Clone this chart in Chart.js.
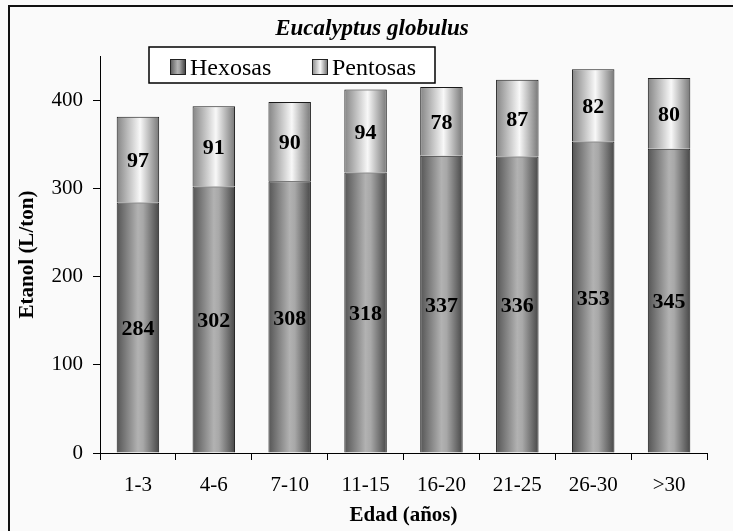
<!DOCTYPE html>
<html>
<head>
<meta charset="utf-8">
<script src="https://cdn.jsdelivr.net/npm/chart.js@4.4.1/dist/chart.umd.min.js"></script>
<style>
  body { margin: 0; background: #fafafa; }
  #wrap { width: 733px; height: 531px; }
</style>
</head>
<body>
<div id="wrap"><canvas id="grafico" width="733" height="531"></canvas></div>
<script>
// datos
const titulo = "Eucalyptus globulus";
const edades = ["1-3", "4-6", "7-10", "11-15", "16-20", "21-25", "26-30", ">30"];
const hexosas = [284, 302, 308, 318, 337, 336, 353, 345];
const pentosas = [97, 91, 90, 94, 78, 87, 82, 80];
const yTicks = [0, 100, 200, 300, 400];

const fuente = "'Liberation Serif', 'Times New Roman', serif";
const anchoBarra = 0.56;

// gradiente tipo cilindro por barra
function cilindro(stops) {
  return function (c) {
    const ch = c.chart;
    const sx = ch.scales.x;
    if (!ch.chartArea || !sx) return stops[1][1];
    const cx = sx.getPixelForValue(c.dataIndex);
    const half = (sx.width / edades.length) * anchoBarra / 2;
    const g = ch.ctx.createLinearGradient(cx - half, 0, cx + half, 0);
    stops.forEach(s => g.addColorStop(s[0], s[1]));
    return g;
  };
}

const stopsHex = [[0, "#555555"], [0.5, "#b2b2b2"], [0.62, "#a8a8a8"], [1, "#474747"]];
const stopsPen = [[0, "#858585"], [0.55, "#f8f8f8"], [1, "#777777"]];

// marco, título, leyenda y etiquetas
const extras = {
  id: "extras",
  afterDraw(chart) {
    const ctx = chart.ctx;
    ctx.save();
    // marco exterior (solo arriba e izquierda)
    ctx.fillStyle = "#111";
    ctx.fillRect(8, 5, 725, 2);
    ctx.fillRect(8, 5, 2, 526);

    // título
    ctx.fillStyle = "#000";
    ctx.font = "italic bold 23px " + fuente;
    ctx.textAlign = "center";
    ctx.textBaseline = "alphabetic";
    ctx.fillText(titulo, 372, 35);

    // leyenda con recuadro
    ctx.fillStyle = "#ffffff";
    ctx.fillRect(149, 47, 286, 36);
    ctx.strokeStyle = "#000";
    ctx.lineWidth = 1.5;
    ctx.strokeRect(149, 47, 286, 36);
    const items = [
      { x: 170, stops: stopsHex },
      { x: 312, stops: stopsPen }
    ];
    ctx.font = "24px " + fuente;
    ctx.textAlign = "left";
    chart.data.datasets.forEach((ds, i) => {
      const it = items[i];
      const g = ctx.createLinearGradient(it.x, 0, it.x + 15, 0);
      it.stops.forEach(s => g.addColorStop(s[0], s[1]));
      ctx.fillStyle = g;
      ctx.fillRect(it.x, 59, 15, 15);
      ctx.lineWidth = 1;
      ctx.strokeStyle = "#222";
      ctx.strokeRect(it.x + 0.5, 59.5, 15, 15);
      ctx.fillStyle = "#000";
      ctx.fillText(ds.label, it.x + 20, 75);
    });
    ctx.restore();
  },
  afterDatasetsDraw(chart) {
    const ctx = chart.ctx;
    ctx.save();
    ctx.font = "bold 22px " + fuente;
    ctx.fillStyle = "#000";
    ctx.textAlign = "center";
    ctx.textBaseline = "middle";
    chart.data.datasets.forEach((ds, i) => {
      chart.getDatasetMeta(i).data.forEach((bar, j) => {
        ctx.fillText(String(ds.data[j]), bar.x, (bar.y + bar.base) / 2 + 2);
      });
    });
    ctx.restore();
  }
};

new Chart(document.getElementById("grafico"), {
  type: "bar",
  data: {
    labels: edades,
    datasets: [
      {
        label: "Hexosas",
        data: hexosas,
        backgroundColor: cilindro(stopsHex),
        borderColor: "#1a1a1a",
        borderWidth: 1,
        categoryPercentage: 1,
        barPercentage: anchoBarra
      },
      {
        label: "Pentosas",
        data: pentosas,
        backgroundColor: cilindro(stopsPen),
        borderColor: "#1a1a1a",
        borderWidth: 1,
        categoryPercentage: 1,
        barPercentage: anchoBarra
      }
    ]
  },
  options: {
    responsive: false,
    animation: false,
    layout: { padding: { left: 0, right: 26, top: 56, bottom: 0 } },
    plugins: {
      legend: { display: false },
      tooltip: { enabled: false },
      title: { display: false }
    },
    scales: {
      x: {
        stacked: true,
        grid: { display: true, drawOnChartArea: false, drawTicks: true, tickLength: 7, color: "#000", offset: true },
        border: { display: true, color: "#000", width: 1 },
        ticks: { color: "#000", font: { family: fuente, size: 21 }, padding: 13, maxRotation: 0 },
        title: {
          display: true,
          text: "Edad (años)",
          color: "#000",
          font: { family: fuente, size: 21, weight: "bold" },
          padding: { top: 0, bottom: 3 }
        },
        afterFit: s => { s.height = 78; }
      },
      y: {
        stacked: true,
        min: 0,
        max: 450,
        grid: { display: true, drawOnChartArea: false, drawTicks: true, tickLength: 7, color: "#000" },
        border: { display: true, color: "#000", width: 1 },
        ticks: { color: "#000", font: { family: fuente, size: 21 }, padding: 10, stepSize: 100 },
        afterBuildTicks: s => { s.ticks = yTicks.map(v => ({ value: v })); },
        title: {
          display: true,
          text: "Etanol (L/ton)",
          color: "#000",
          font: { family: fuente, size: 21, weight: "bold" },
          padding: { top: 15, bottom: 0 }
        },
        afterFit: s => { s.width = 100; }
      }
    }
  },
  plugins: [extras]
});
</script>
</body>
</html>
